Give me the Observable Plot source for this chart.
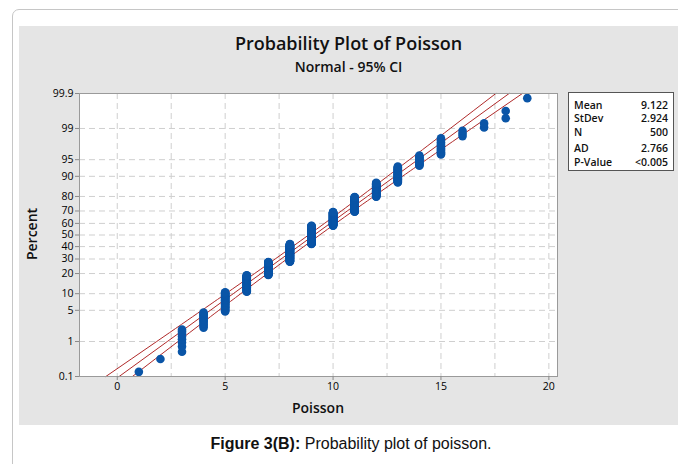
<!DOCTYPE html>
<html><head><meta charset="utf-8">
<script src="https://cdn.jsdelivr.net/npm/d3@7"></script>
<script src="https://cdn.jsdelivr.net/npm/@observablehq/plot@0.6"></script>
<style>
body{margin:0;background:#fff;width:678px;height:464px;overflow:hidden;position:relative;font-family:"Open Sans",sans-serif;}
#card{position:absolute;left:12px;top:9px;width:720px;height:520px;border:1px solid #c6c6c6;border-radius:7px;box-sizing:border-box;}
#panel{position:absolute;left:19px;top:26px;width:659px;height:399px;background:#e5e5e5;}
#chart{position:absolute;left:19px;top:26px;}
.t{position:absolute;white-space:nowrap;color:#111;}
#title{left:19px;width:659px;text-align:center;top:31px;font-size:18px;font-weight:600;line-height:24px;}
#subtitle{left:19px;width:659px;text-align:center;top:57px;font-size:14px;font-weight:600;line-height:20px;}
#xlabel{left:79px;width:478px;text-align:center;top:398px;font-size:14px;font-weight:600;line-height:20px;}
#ylabel{left:32px;top:234px;font-size:14px;font-weight:600;line-height:20px;transform:translate(-50%,-50%) rotate(-90deg);}
#stats{position:absolute;left:568px;top:92px;width:106px;height:79px;background:#fff;border:1px solid #555;box-sizing:border-box;font-size:10.5px;font-weight:600;color:#111;}
#stats div{position:absolute;left:5px;right:5px;height:14px;line-height:14px;}
#stats span.v{position:absolute;right:0;}
#caption{left:0;width:702px;text-align:center;top:433px;font-family:"Liberation Sans",Arial,sans-serif;font-size:16px;line-height:22px;color:#111;}
</style>
</head><body>
<div id="card"></div>
<div id="panel"></div>
<div id="chart"></div>
<div class="t" id="title">Probability Plot of Poisson</div>
<div class="t" id="subtitle">Normal - 95% CI</div>
<div class="t" id="xlabel">Poisson</div>
<div class="t" id="ylabel">Percent</div>
<div id="stats"></div>
<div class="t" id="caption"><b>Figure 3(B):</b> Probability plot of poisson.</div>
<script>
// ---- data ----
const poissonValues = [1,2,3,4,5,6,7,8,9,10,11,12,13,14,15,16,17,18,19];
const valueCounts   = [1,1,8,13,30,42,44,72,79,57,52,38,30,13,12,3,2,2,1];
const percentTicks  = [0.1,1,5,10,20,30,40,50,60,70,80,90,95,99,99.9];
const percentTickLabels = ["0.1","1","5","10","20","30","40","50","60","70","80","90","95","99","99.9"];
const xTicks = [0,5,10,15,20];
const xGridLines = [0,2.5,5,7.5,10,12.5,15,17.5,20];
const statLabels = ["Mean","StDev","N","AD","P-Value"];
const statValues = ["9.122","2.924","500","2.766","<0.005"];
const fitMean = 9.122, fitStDev = 2.924, fitN = 500;

// inverse standard normal CDF (Acklam)
function probit(p){
  const a=[-3.969683028665376e+01,2.209460984245205e+02,-2.759285104469687e+02,1.383577518672690e+02,-3.066479806614716e+01,2.506628277459239e+00];
  const b=[-5.447609879822406e+01,1.615858368580409e+02,-1.556989798598866e+02,6.680131188771972e+01,-1.328068155288572e+01];
  const c=[-7.784894002430293e-03,-3.223964580411365e-01,-2.400758277161838e+00,-2.549671010115413e+00,4.374664141464968e+00,2.938163982698783e+00];
  const d=[7.784695709041462e-03,3.224671290700398e-01,2.445134137142996e+00,3.754408661907416e+00];
  const pl=0.02425;
  if(p<pl){const q=Math.sqrt(-2*Math.log(p));return (((((c[0]*q+c[1])*q+c[2])*q+c[3])*q+c[4])*q+c[5])/((((d[0]*q+d[1])*q+d[2])*q+d[3])*q+1);}
  if(p>1-pl){const q=Math.sqrt(-2*Math.log(1-p));return -(((((c[0]*q+c[1])*q+c[2])*q+c[3])*q+c[4])*q+c[5])/((((d[0]*q+d[1])*q+d[2])*q+d[3])*q+1);}
  const q=p-0.5,r=q*q;
  return (((((a[0]*r+a[1])*r+a[2])*r+a[3])*r+a[4])*r+a[5])*q/(((((b[0]*r+b[1])*r+b[2])*r+b[3])*r+b[4])*r+1);
}

// points at median-rank plotting positions
const total = d3.sum(valueCounts);
const points = [];
let rank = 0;
poissonValues.forEach((v,k)=>{
  for(let j=0;j<valueCounts[k];j++){
    rank++;
    points.push({x:v, z:probit((rank-0.3)/(total+0.4))});
  }
});

// fitted normal line and 95% CI on percentiles, at the tick levels
const fit = [];
percentTicks.forEach(p=>{
  const z = probit(p/100);
  const xp = fitMean + fitStDev*z;
  const h = 1.96*fitStDev*Math.sqrt((1+z*z/2)/fitN);
  fit.push({z, mid:xp, lo:xp-h, hi:xp+h});
});

const zTicks = percentTicks.map(p=>probit(p/100));
const zMax = probit(0.999);
const fmtY = d => { let best=0; zTicks.forEach((z,i)=>{ if(Math.abs(z-d)<Math.abs(zTicks[best]-d)) best=i; }); return percentTickLabels[best]; };

const lineColor = "#b02a2a";
const chart = Plot.plot({
  width: 659, height: 399,
  marginLeft: 60, marginTop: 67, marginRight: 121, marginBottom: 49,
  style: {background:"transparent", fontFamily:"'Open Sans', sans-serif", fontSize:"10.5px", color:"#000", overflow:"visible"},
  x: {domain:[-1.75, 20.4]},
  y: {domain:[-zMax, zMax]},
  marks: [
    Plot.frame({fill:"white", stroke:"none"}),
    Plot.gridX(xGridLines, {stroke:"#cfcfcf", strokeOpacity:1, strokeDasharray:"6,4"}),
    Plot.gridY(zTicks, {stroke:"#cfcfcf", strokeOpacity:1, strokeDasharray:"6,4"}),
    Plot.line(fit, {x:"lo", y:"z", stroke:lineColor, strokeWidth:1, curve:"natural"}),
    Plot.line(fit, {x:"mid", y:"z", stroke:lineColor, strokeWidth:1}),
    Plot.line(fit, {x:"hi", y:"z", stroke:lineColor, strokeWidth:1, curve:"natural"}),
    Plot.dot(points, {x:"x", y:"z", r:4.3, fill:"#0a55a7", stroke:"none"}),
    Plot.frame({stroke:"#9a9a9a"}),
    Plot.axisX(xTicks, {tickSize:4, tickPadding:2, stroke:"#8a8a8a", label:null, tickFormat:d=>String(d)}),
    Plot.axisY(zTicks, {tickSize:4, tickPadding:2, stroke:"#8a8a8a", label:null, tickFormat:fmtY})
  ]
});
document.getElementById("chart").appendChild(chart);

// stats box
const rowTops = [5,18,32,48,62];
const box = document.getElementById("stats");
statLabels.forEach((s,i)=>{
  const r = document.createElement("div");
  r.style.top = rowTops[i]+"px";
  r.innerHTML = `<span>${s}</span><span class="v">${statValues[i]}</span>`;
  box.appendChild(r);
});
</script>
</body></html>
